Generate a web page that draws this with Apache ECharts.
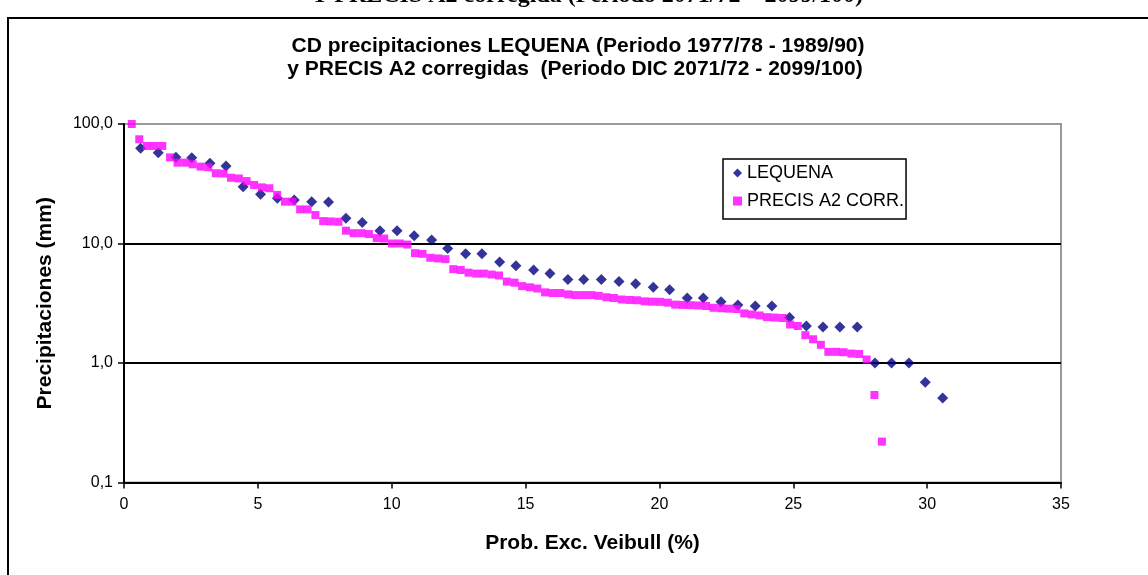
<!DOCTYPE html>
<html>
<head>
<meta charset="utf-8">
<script src="https://cdn.jsdelivr.net/npm/echarts@6/dist/echarts.min.js"></script>
<style>
  html, body { margin: 0; padding: 0; background: #ffffff; }
  #chart { width: 1148px; height: 575px; }
</style>
</head>
<body>
<div id="chart"></div>
<script>
// Exceedance probability (Weibull, %) and daily precipitation (mm) — LEQUENA station
const lequenaX = [0.62, 1.28, 1.94, 2.53, 3.21, 3.81, 4.45, 5.10, 5.73, 6.36, 7.01, 7.64,
  8.29, 8.90, 9.56, 10.20, 10.84, 11.49, 12.09, 12.76, 13.37, 14.03, 14.64, 15.30,
  15.91, 16.58, 17.17, 17.83, 18.49, 19.11, 19.77, 20.38, 21.04, 21.64, 22.30, 22.93,
  23.58, 24.20, 24.86, 25.49, 26.11, 26.74, 27.39, 28.05, 28.67, 29.32, 29.93, 30.58];
const lequenaY = [62.6, 57.5, 52.6, 52.2, 46.9, 44.5, 29.9, 25.8, 23.9, 23.1, 22.4, 22.2,
  16.3, 15.0, 12.8, 12.8, 11.6, 10.7, 9.1, 8.2, 8.2, 7.0, 6.5, 6.0,
  5.6, 5.0, 5.0, 5.0, 4.8, 4.6, 4.3, 4.1, 3.5, 3.5, 3.26, 3.06,
  3.0, 3.0, 2.4, 2.04, 2.0, 2.0, 2.0, 1.0, 1.0, 1.0, 0.69, 0.51];

// PRECIS A2 corrected series
const precisX = [0.29, 0.57, 0.86, 1.14, 1.43, 1.72, 2.00, 2.29, 2.57, 2.86,
  3.15, 3.43, 3.72, 4.00, 4.29, 4.58, 4.86, 5.15, 5.43, 5.72,
  6.01, 6.29, 6.58, 6.86, 7.15, 7.44, 7.72, 8.01, 8.29, 8.58,
  8.87, 9.15, 9.44, 9.72, 10.01, 10.30, 10.58, 10.87, 11.15, 11.44,
  11.73, 12.01, 12.30, 12.58, 12.87, 13.16, 13.44, 13.73, 14.01, 14.30,
  14.59, 14.87, 15.16, 15.44, 15.73, 16.02, 16.30, 16.59, 16.87, 17.16,
  17.45, 17.73, 18.02, 18.30, 18.59, 18.88, 19.16, 19.45, 19.73, 20.02,
  20.31, 20.59, 20.88, 21.16, 21.45, 21.74, 22.02, 22.31, 22.59, 22.88,
  23.17, 23.45, 23.74, 24.02, 24.31, 24.60, 24.88, 25.17, 25.45, 25.74,
  26.03, 26.31, 26.60, 26.88, 27.17, 27.46, 27.74, 28.03, 28.31];
const precisY = [100, 74.5, 65.5, 65.5, 65.5, 52.6, 47.5, 47.5, 46, 44,
  43.5, 38.7, 38.5, 35.5, 35, 33.3, 30.9, 29.5, 29, 25.5,
  22.4, 22.4, 19.3, 19.3, 17.3, 15.4, 15.3, 15.2, 12.8, 12.2,
  12.2, 12.0, 11.1, 11.0, 10.0, 10.0, 9.8, 8.3, 8.2, 7.6,
  7.5, 7.4, 6.1, 6.0, 5.7, 5.6, 5.6, 5.5, 5.4, 4.8,
  4.7, 4.4, 4.3, 4.2, 3.9, 3.85, 3.85, 3.75, 3.7, 3.7,
  3.7, 3.65, 3.55, 3.5, 3.4, 3.37, 3.35, 3.28, 3.26, 3.25,
  3.2, 3.08, 3.06, 3.05, 3.03, 3.0, 2.9, 2.87, 2.85, 2.83,
  2.6, 2.55, 2.5, 2.42, 2.4, 2.38, 2.1, 2.04, 1.71, 1.58,
  1.42, 1.24, 1.24, 1.23, 1.2, 1.19, 1.07, 0.54, 0.22];

const seriesNames = ['LEQUENA', 'PRECIS A2 CORR.'];
const titleLines = [
  'CD precipitaciones LEQUENA (Periodo 1977/78 - 1989/90)',
  'y PRECIS A2 corregidas  (Periodo DIC 2071/72 - 2099/100)'
];
const headerText = 'Y PRECIS A2 corregida (Periodo 2071/72 \u2013 2099/100)';
const xAxisName = 'Prob. Exc. Veibull (%)';
const yAxisName = 'Precipitaciones (mm)';

const SANS = 'Arial, "Liberation Sans", sans-serif';
const zip = (xs, ys) => xs.map((x, i) => [x, ys[i]]);

const chart = echarts.init(document.getElementById('chart'), null, { renderer: 'canvas' });

const yFmt = v => Number(v).toFixed(1).replace('.', ',');
const tickStyle = { color: '#000', width: 1.5 };

chart.setOption({
  animation: false,
  backgroundColor: '#ffffff',
  grid: {
    left: 124, right: 87, top: 124, bottom: 92.5,
    show: true, borderColor: '#9a9a9a', borderWidth: 2, backgroundColor: '#ffffff'
  },
  legend: {
    data: seriesNames,
    orient: 'vertical',
    left: 723, top: 159,
    padding: [5, 2, 9, 10],
    itemGap: 10,
    itemWidth: 9, itemHeight: 9,
    backgroundColor: '#ffffff',
    borderColor: '#000000', borderWidth: 1.5,
    textStyle: { fontFamily: SANS, fontSize: 18, color: '#000000' }
  },
  xAxis: {
    type: 'value', min: 0, max: 35, interval: 5,
    name: xAxisName, nameLocation: 'middle', nameGap: 50,
    nameTextStyle: { fontFamily: SANS, fontSize: 21, fontWeight: 'bold', color: '#000' },
    axisLine: { show: true, lineStyle: { color: '#000', width: 2 } },
    axisTick: { show: true, inside: false, length: 6, lineStyle: tickStyle },
    axisLabel: { fontFamily: SANS, fontSize: 16, color: '#000', margin: 14 },
    splitLine: { show: false }
  },
  yAxis: {
    type: 'log', logBase: 10, min: 0.1, max: 100,
    name: yAxisName, nameLocation: 'middle', nameGap: 68, nameRotate: 90,
    nameTextStyle: { fontFamily: SANS, fontSize: 21, fontWeight: 'bold', color: '#000' },
    axisLine: { show: true, lineStyle: { color: '#000', width: 2 } },
    axisTick: { show: true, inside: false, length: 6, lineStyle: tickStyle },
    axisLabel: { fontFamily: SANS, fontSize: 16, color: '#000', margin: 11, formatter: yFmt },
    splitLine: { show: true, showMinLine: false, showMaxLine: false,
      lineStyle: { color: '#000', width: 2 } },
    minorTick: { show: false }, minorSplitLine: { show: false }
  },
  graphic: [
    {
      type: 'rect', silent: true, z: -10,
      shape: { x: 8, y: 18, width: 1300, height: 700 },
      style: { fill: 'none', stroke: '#000', lineWidth: 2 }
    },
    {
      type: 'text', silent: true,
      style: {
        x: 587, y: 8, text: headerText, align: 'center', verticalAlign: 'bottom',
        font: 'bold 24px "Liberation Serif", "Times New Roman", serif', fill: '#000'
      }
    },
    {
      type: 'text', silent: true,
      style: {
        x: 578, y: 46, text: titleLines[0], align: 'center', verticalAlign: 'middle',
        font: 'bold 21px ' + SANS, fill: '#000'
      }
    },
    {
      type: 'text', silent: true,
      style: {
        x: 575, y: 69, text: titleLines[1], align: 'center', verticalAlign: 'middle',
        font: 'bold 21px ' + SANS, fill: '#000'
      }
    }
  ],
  series: [
    {
      name: seriesNames[0], type: 'scatter',
      symbol: 'diamond', symbolSize: 11,
      itemStyle: { color: '#000080' },
      data: zip(lequenaX, lequenaY)
    },
    {
      name: seriesNames[1], type: 'scatter',
      symbol: 'rect', symbolSize: 8,
      itemStyle: { color: '#ff00ff' },
      data: zip(precisX, precisY)
    }
  ]
});
</script>
</body>
</html>
